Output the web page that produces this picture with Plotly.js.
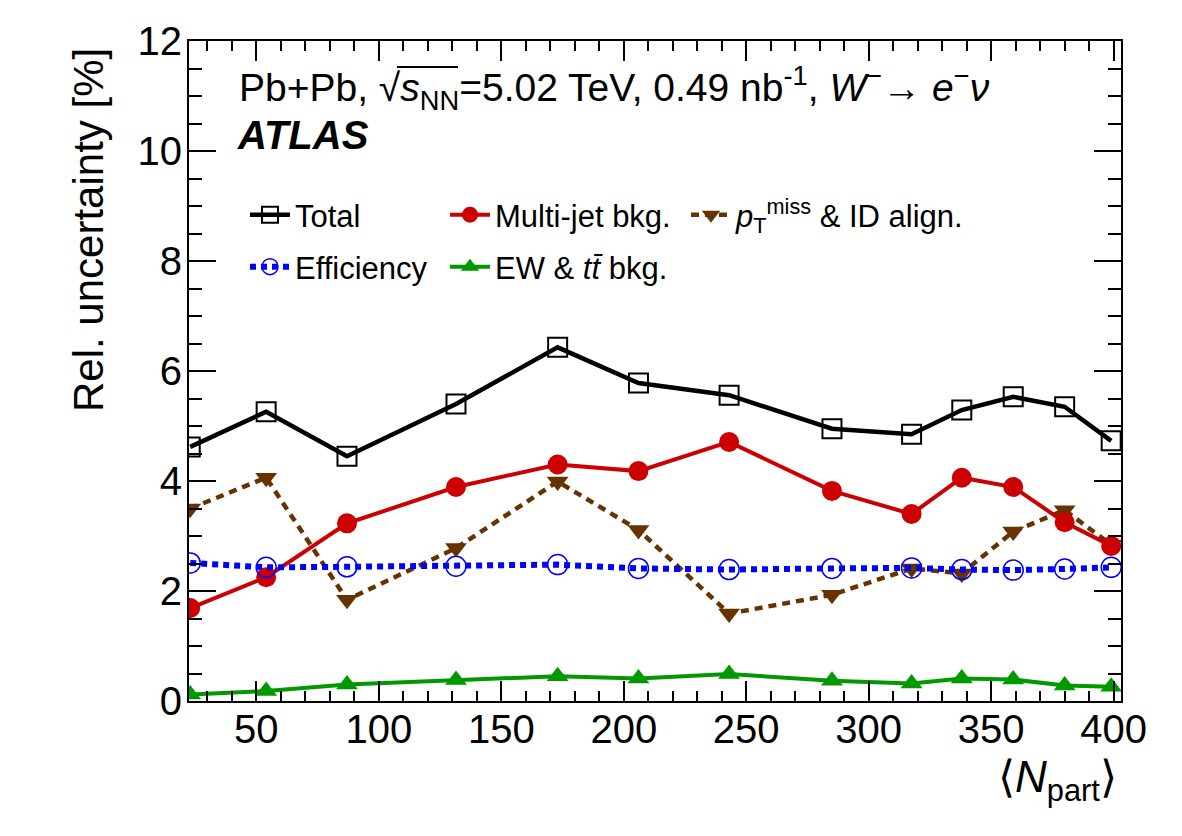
<!DOCTYPE html>
<html>
<head>
<meta charset="utf-8">
<script src="https://cdn.plot.ly/plotly-3.0.1.min.js"></script>
<style>
  html, body { margin: 0; padding: 0; background: #fff; }
  #chart { width: 1182px; height: 836px; }
</style>
</head>
<body>
<div id="chart"></div>
<script>
// Mean number of participants per centrality class
const npart = [23.0, 54.0, 87.0, 131.5, 173.0, 206.0, 243.0, 285.0, 317.5, 338.0, 359.0, 380.0, 399.0];

// Relative uncertainties [%]
const total      = [4.62, 5.26, 4.45, 5.40, 6.43, 5.78, 5.56, 4.95, 4.85, 5.29, 5.53, 5.35, 4.73];
const multijet   = [1.69, 2.25, 3.23, 3.89, 4.30, 4.18, 4.71, 3.82, 3.40, 4.06, 3.89, 3.25, 2.82];
const efficiency = [2.51, 2.43, 2.44, 2.45, 2.48, 2.41, 2.39, 2.41, 2.42, 2.39, 2.38, 2.40, 2.43];
const ptmiss     = [3.50, 4.06, 1.84, 2.78, 3.99, 3.11, 1.59, 1.93, 2.41, 2.32, 3.08, 3.47, 2.84];
const ewtt       = [0.12, 0.18, 0.30, 0.38, 0.45, 0.41, 0.49, 0.37, 0.32, 0.41, 0.39, 0.28, 0.26];

const xRange = [22.5, 403];
const yRange = [0, 12];
const xTickVals = [50, 100, 150, 200, 250, 300, 350, 400];
const yTickVals = [0, 2, 4, 6, 8, 10, 12];

// Frame geometry in pixels
const W = 1182, H = 836;
const M = { l: 189, r: 61, t: 41, b: 135 };
const PW = W - M.l - M.r, PH = H - M.t - M.b;
const px = x => (x - M.l) / PW;          // pixel column -> paper x
const py = y => (H - M.b - y) / PH;      // pixel row -> paper y

const FONT = 'Liberation Sans, Arial, Helvetica, sans-serif';

function legendAt(x, y) {
  return {
    x: px(x), y: py(y), xanchor: 'left', yanchor: 'middle',
    bgcolor: 'rgba(0,0,0,0)', borderwidth: 0,
    font: { family: FONT, size: 31, color: '#000' },
    itemwidth: 40, tracegroupgap: 0
  };
}

const traces = [
  {
    x: npart, y: total, name: 'Total', legend: 'legend',
    mode: 'lines+markers', type: 'scatter',
    line: { color: '#000000', width: 4.5 },
    marker: { symbol: 'square-open', size: 19, color: '#000000', line: { width: 2 } }
  },
  {
    x: npart, y: ptmiss, name: '<i>p</i><sub>T</sub><sup>miss</sup> & ID align.', legend: 'legend3',
    mode: 'lines+markers', type: 'scatter',
    line: { color: '#663300', width: 4.5, dash: '8px,6px' },
    marker: { symbol: 'triangle-down', size: 19, color: '#663300' }
  },
  {
    x: npart, y: multijet, name: 'Multi-jet bkg.', legend: 'legend2',
    mode: 'lines+markers', type: 'scatter',
    line: { color: '#cc0000', width: 4 },
    marker: { symbol: 'circle', size: 20, color: '#cc0000' }
  },
  {
    x: npart, y: ewtt, name: 'EW & <i>t</i><i>t̄</i> bkg.', legend: 'legend5',
    mode: 'lines+markers', type: 'scatter',
    line: { color: '#009900', width: 4 },
    marker: { symbol: 'triangle-up', size: 19, color: '#009900' }
  },
  {
    x: npart, y: efficiency, name: 'Efficiency', legend: 'legend4',
    mode: 'lines+markers', type: 'scatter',
    line: { color: '#0000ff', width: 6, dash: '6px,5px' },
    marker: { symbol: 'circle-open', size: 20, color: '#0000ff', line: { width: 1.5 } }
  }
];

const axisCommon = {
  showline: true, linecolor: '#000', linewidth: 2,
  mirror: 'allticks', ticks: 'inside', tickcolor: '#000', tickwidth: 2,
  showgrid: false, zeroline: false,
  tickfont: { family: FONT, size: 40, color: '#000' }
};

const layout = {
  width: W, height: H,
  margin: M,
  paper_bgcolor: '#fff', plot_bgcolor: '#fff',
  showlegend: true,
  legend:  legendAt(245, 215),
  legend2: legendAt(445, 215),
  legend3: legendAt(686, 215),
  legend4: legendAt(245, 267),
  legend5: legendAt(445, 267),
  xaxis: Object.assign({}, axisCommon, {
    range: xRange, tickmode: 'array', tickvals: xTickVals,
    ticklen: 20, ticklabelstandoff: -8,
    minor: { ticks: 'inside', dtick: 10, tick0: 0, ticklen: 10, tickwidth: 2, tickcolor: '#000', showgrid: false }
  }),
  yaxis: Object.assign({}, axisCommon, {
    range: yRange, tickmode: 'array', tickvals: yTickVals,
    ticklen: 27, ticklabelstandoff: -3,
    minor: { ticks: 'inside', dtick: 0.5, tick0: 0, ticklen: 13, tickwidth: 2, tickcolor: '#000', showgrid: false }
  }),
  shapes: [
    // bar of the square-root sign over s_NN
    {
      type: 'line', xref: 'paper', yref: 'paper',
      x0: px(397), x1: px(458), y0: py(67), y1: py(67),
      line: { color: '#000', width: 2 }
    }
  ],
  annotations: [
    {
      xref: 'paper', yref: 'paper', x: px(237), y: py(88),
      xanchor: 'left', yanchor: 'middle', showarrow: false,
      font: { family: FONT, size: 39, color: '#000' },
      text: 'Pb+Pb, √<i>s</i><sub>NN</sub>=5.02 TeV, 0.49 nb<sup>-1</sup>, <i>W</i><sup>−</sup>→ <i>e</i><sup>−</sup><i>ν</i>'
    },
    {
      xref: 'paper', yref: 'paper', x: px(235), y: py(135),
      xanchor: 'left', yanchor: 'middle', showarrow: false,
      font: { family: FONT, size: 40, color: '#000' },
      text: '<b><i>ATLAS</i></b>'
    },
    {
      xref: 'paper', yref: 'paper', x: px(1119), y: py(780),
      xanchor: 'right', yanchor: 'middle', showarrow: false,
      font: { family: FONT, size: 44, color: '#000' },
      text: '⟨<i>N</i><sub>part</sub>⟩'
    },
    {
      xref: 'paper', yref: 'paper', x: px(88), y: py(46),
      xanchor: 'center', yanchor: 'top', showarrow: false, textangle: -90,
      font: { family: FONT, size: 42, color: '#000' },
      text: 'Rel. uncertainty [%]'
    }
  ]
};

Plotly.newPlot('chart', traces, layout, { displayModeBar: false, staticPlot: true });
</script>
</body>
</html>
